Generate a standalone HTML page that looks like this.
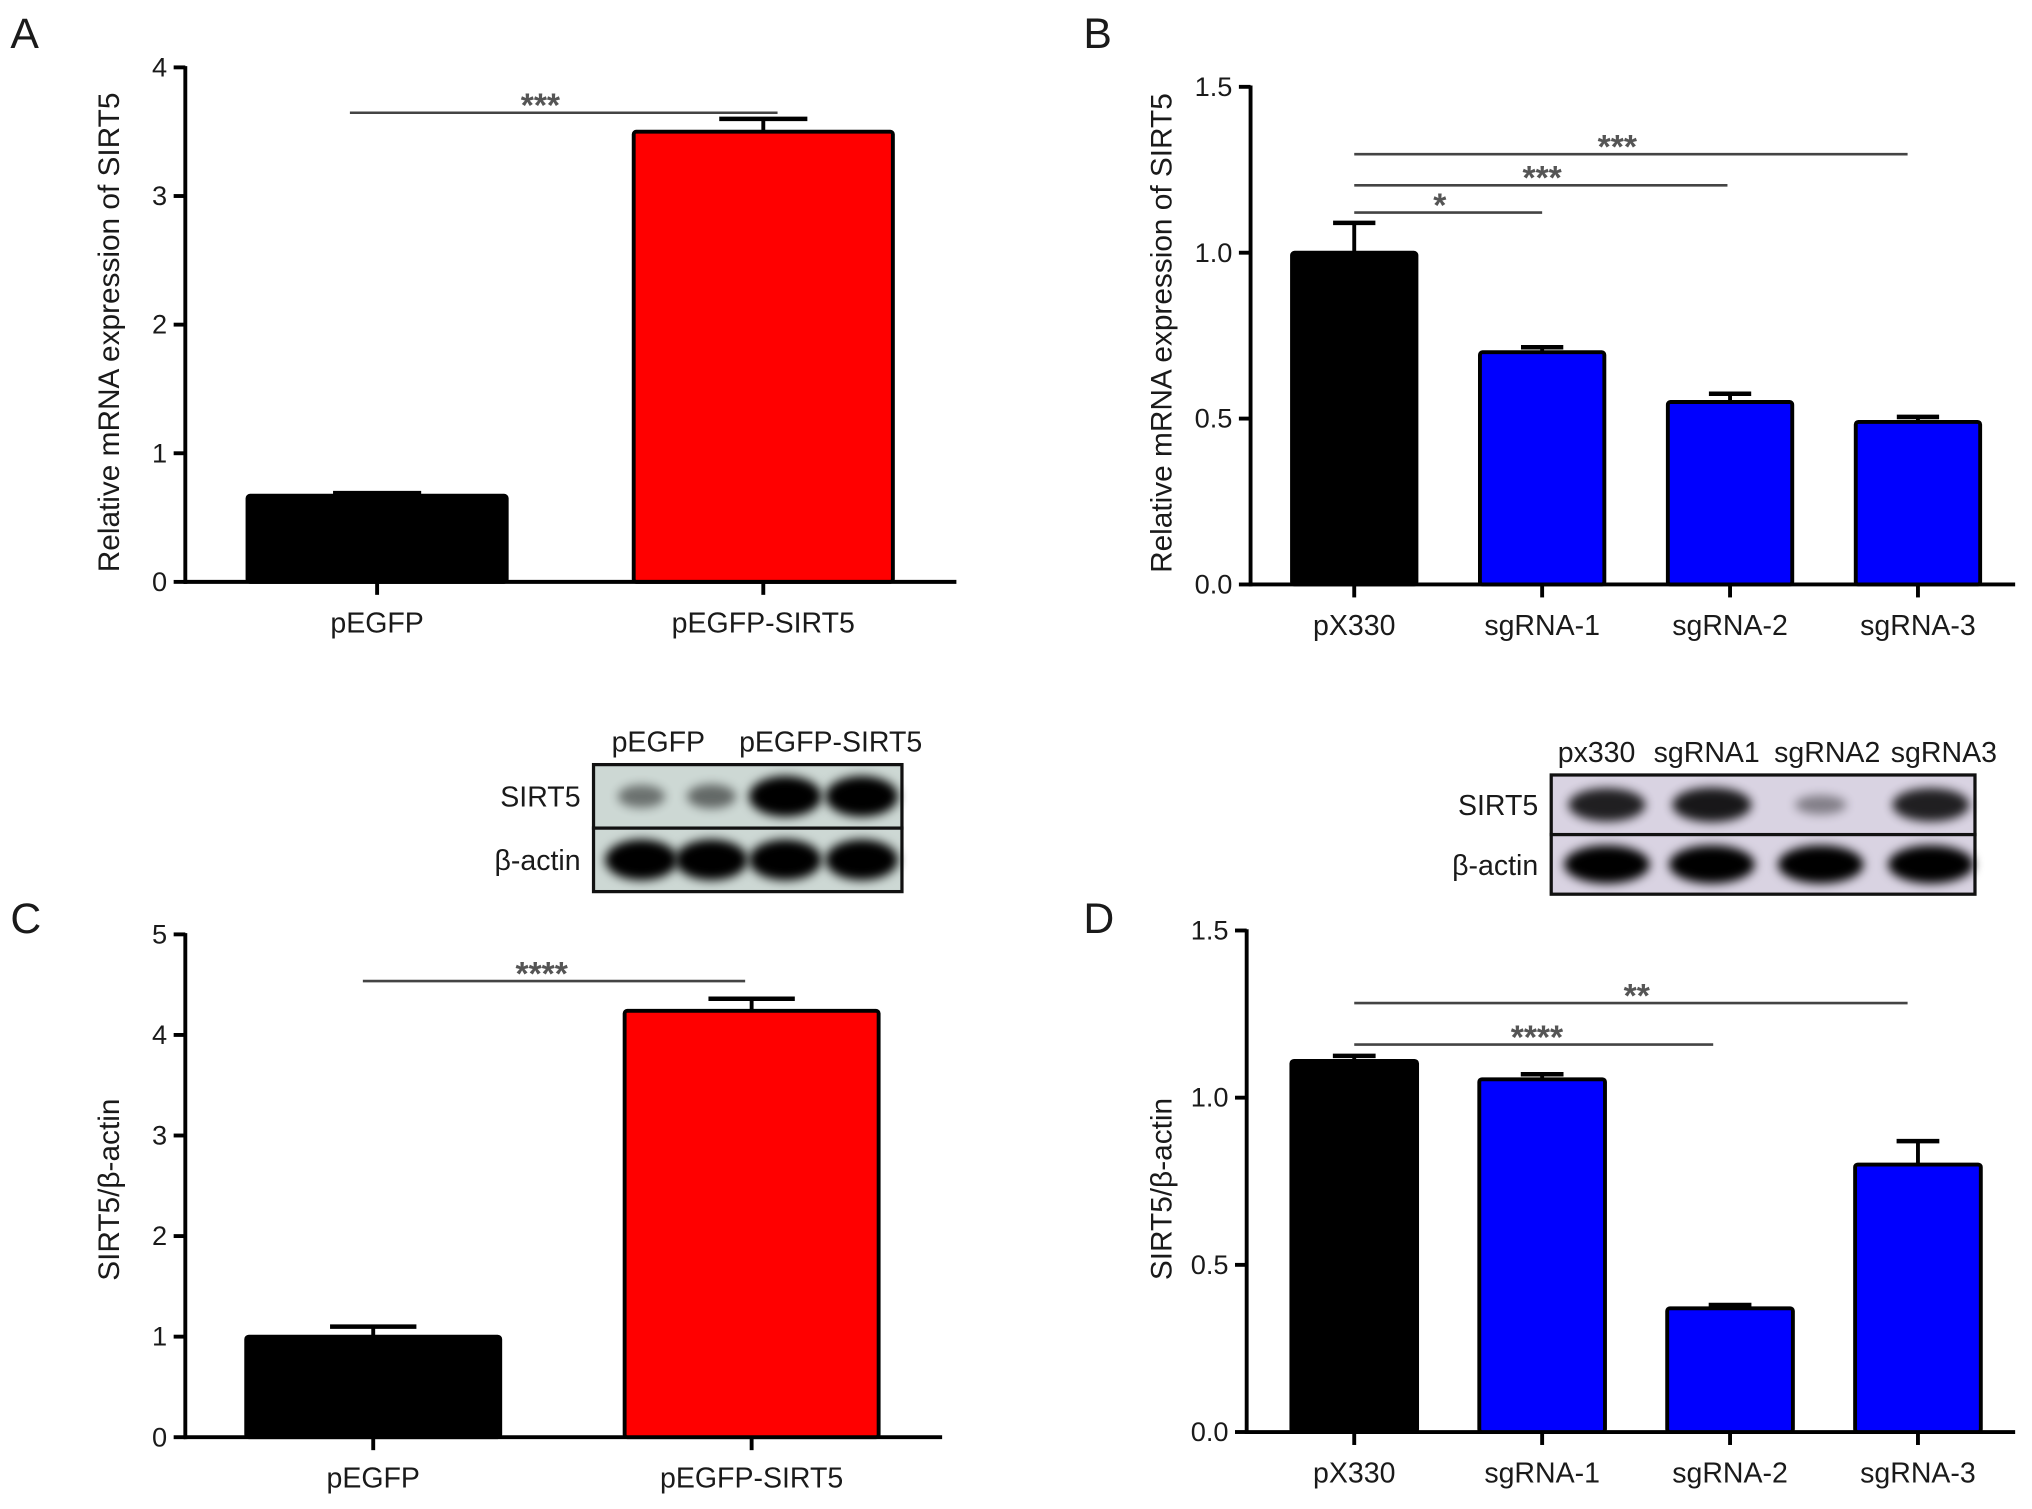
<!DOCTYPE html>
<html><head><meta charset="utf-8"><style>
html,body{margin:0;padding:0;background:#fff;width:2032px;height:1509px;overflow:hidden}
svg{display:block}
text{font-family:"Liberation Sans",sans-serif;fill:#1a1a1a}
</style></head><body>
<svg id="fig" width="2032" height="1509" viewBox="0 0 1568 1164.4" preserveAspectRatio="none" xmlns="http://www.w3.org/2000/svg">
<defs>
<filter id="blur" x="-30%" y="-60%" width="160%" height="220%"><feGaussianBlur stdDeviation="4"/></filter>
</defs>
<g id="root"></g>
</svg>
<script>
const NS='http://www.w3.org/2000/svg';
// Panel A data
const catsA=['pEGFP','pEGFP-SIRT5'];
const valsA=[0.67,3.5];
const errA=[0.02,0.1];
const ticksA=[0,1,2,3,4];
// Panel B data
const catsB=['pX330','sgRNA-1','sgRNA-2','sgRNA-3'];
const valsB=[1.0,0.70,0.55,0.49];
const errB=[0.09,0.015,0.025,0.015];
const ticksB=['0.0','0.5','1.0','1.5'];
// Panel C data
const catsC=['pEGFP','pEGFP-SIRT5'];
const valsC=[1.0,4.24];
const errC=[0.1,0.12];
const ticksC=[0,1,2,3,4,5];
// Panel D data
const catsD=['pX330','sgRNA-1','sgRNA-2','sgRNA-3'];
const valsD=[1.11,1.055,0.37,0.80];
const errD=[0.015,0.015,0.01,0.07];
const ticksD=['0.0','0.5','1.0','1.5'];

const root=document.getElementById('root');
function el(tag,attrs,parent,txt){const e=document.createElementNS(NS,tag);for(const k in attrs)e.setAttribute(k,attrs[k]);if(txt!==undefined)e.textContent=txt;(parent||root).appendChild(e);return e;}

function panel(cfg){
  const g=el('g',{});
  
  
  const y=v=>cfg.y0-(v-cfg.vmin)/(cfg.vmax-cfg.vmin)*(cfg.y0-cfg.y1);
  const ya=el('line',{x1:cfg.ax,y1:y(cfg.vmax)-1,x2:cfg.ax,y2:cfg.y0+1.5,stroke:'#000','stroke-width':3},g);
  
  
  cfg.ticks.forEach(t=>{
    const v=parseFloat(t);
    const tk=el('line',{x1:cfg.ax-9,y1:y(v),x2:cfg.ax,y2:y(v),stroke:'#000','stroke-width':3},g);
    
    
    const tl=el('text',{x:cfg.ax-14,y:y(v)+7,'text-anchor':'end','font-size':21},g,String(t));
    
    
  });
  const xa=el('line',{x1:cfg.ax-1,y1:cfg.y0,x2:cfg.xEnd,y2:cfg.y0,stroke:'#000','stroke-width':3},g);
  
  
  const yl=el('text',{x:0,y:0,'text-anchor':'middle','font-size':23,transform:`translate(${cfg.ylx},${(cfg.y0+y(cfg.vmax))/2+cfg.yloff}) rotate(-90)`},g,cfg.ylabel);
  
  
  const cx=i=>cfg.ax+cfg.off+i*cfg.step;
  cfg.cats.forEach((c,i)=>{
    const x=cx(i),w=cfg.bw;
    const v=cfg.vals[i];
    const eb=el('g',{},g);
    
    
    el('line',{x1:x,y1:y(v),x2:x,y2:y(v+cfg.err[i]),stroke:'#000','stroke-width':3},eb);
    el('line',{x1:x-w*0.17,y1:y(v+cfg.err[i]),x2:x+w*0.17,y2:y(v+cfg.err[i]),stroke:'#000','stroke-width':3.5},eb);
    const r=el('rect',{x:x-w/2,y:y(v),width:w,height:cfg.y0-y(v),fill:cfg.colors[i],stroke:'#000','stroke-width':3,rx:2},g);
    
    
    const tk=el('line',{x1:x,y1:cfg.y0,x2:x,y2:cfg.y0+10,stroke:'#000','stroke-width':3},g);
    
    
    const tl=el('text',{x:x,y:cfg.y0+39,'text-anchor':'middle','font-size':22},g,c);
    
    
  });
  (cfg.sig||[]).forEach(s=>{
    const sg=el('g',{},g);
    
    
    el('line',{x1:s[0],y1:s[2],x2:s[1],y2:s[2],stroke:'#444','stroke-width':2},sg);
    el('text',{x:s[4]||(s[0]+s[1])/2,y:s[2]+3,'text-anchor':'middle','font-size':26,style:'fill:#555;font-weight:bold'},sg,s[3]);
  });
}
const blk='#000',red='#ff0000',blu='#0000ff';
panel({name:'panel-a-chart',cats:catsA,vals:valsA,err:errA,ticks:ticksA,vmin:0,vmax:4,ax:143,y0:449,y1:52,xEnd:738,off:148,step:298,bw:200,colors:[blk,red],ylx:92,yloff:6,ylabel:'Relative mRNA expression of SIRT5',sig:[[270,600,87,'***',417]]});
panel({name:'panel-b-chart',cats:catsB,vals:valsB,err:errB,ticks:ticksB,vmin:0,vmax:1.5,ax:965,y0:451,y1:67,xEnd:1555,off:80,step:145,bw:96,colors:[blk,blu,blu,blu],ylx:904,yloff:-2,ylabel:'Relative mRNA expression of SIRT5',sig:[[1045,1472,119,'***',1248],[1045,1333,143,'***',1190],[1045,1190,164,'*',1111]]});
panel({name:'panel-c-chart',cats:catsC,vals:valsC,err:errC,ticks:ticksC,vmin:0,vmax:5,ax:143,y0:1109,y1:721,xEnd:727,off:145,step:292,bw:196,colors:[blk,red],ylx:92,yloff:3,ylabel:'SIRT5/β-actin',sig:[[280,575,757,'****',418]]});
panel({name:'panel-d-chart',cats:catsD,vals:valsD,err:errD,ticks:ticksD,vmin:0,vmax:1.5,ax:962,y0:1105,y1:718,xEnd:1555,off:83,step:145,bw:97,colors:[blk,blu,blu,blu],ylx:904,yloff:6,ylabel:'SIRT5/β-actin',sig:[[1045,1472,774,'**',1263],[1045,1322,806,'****',1186]]});

[['A',8,37],['B',836,37],['C',8,720],['D',836,720]].forEach(p=>{
  const t=el('text',{x:p[1],y:p[2],'font-size':33},root,p[0]);
  
  
});
function blot(cfg){
  const g=el('g',{});
  
  
  const rh=(cfg.y2-cfg.y1)/2;
  [0,1].forEach(r=>{
    el('rect',{x:cfg.x1,y:cfg.y1+r*rh,width:cfg.x2-cfg.x1,height:rh,fill:cfg.bg,stroke:'#111','stroke-width':2.5},g);
    cfg.lanes.forEach((lx,i)=>{
      const int=cfg.rows[r][i];
      el('ellipse',{cx:lx,cy:cfg.y1+r*rh+rh/2,rx:cfg.bw*(0.5+0.5*int),ry:rh*(0.12+0.2*int),fill:'#000',opacity:0.25+0.75*int,filter:'url(#blur)'},g);
    });
  });
  cfg.rowLabels.forEach((l,r)=>{
    const t=el('text',{x:cfg.x1-10,y:cfg.y1+r*rh+rh/2+8,'text-anchor':'end','font-size':22},g,l);
    
    
  });
  cfg.top.forEach(l=>{
    const t=el('text',{x:l[1],y:cfg.y1-10,'text-anchor':'middle','font-size':22},g,l[0]);
    
    
  });
}
blot({name:'western-blot-a',x1:458,x2:696,y1:590,y2:688,bg:'#cdd8d4',lanes:[495,549,606,665],bw:28,rows:[[0.3,0.35,1,1],[1,1,1,1]],rowLabels:['SIRT5','β-actin'],top:[['pEGFP',508],['pEGFP-SIRT5',641]]});
blot({name:'western-blot-d',x1:1197,x2:1524,y1:598,y2:690,bg:'#d9d3e2',lanes:[1240,1321,1405,1490],bw:33,rows:[[0.8,0.85,0.2,0.8],[1,1,1,1]],rowLabels:['SIRT5','β-actin'],top:[['px330',1232],['sgRNA1',1317],['sgRNA2',1410],['sgRNA3',1500]]});
</script>
</body></html>
